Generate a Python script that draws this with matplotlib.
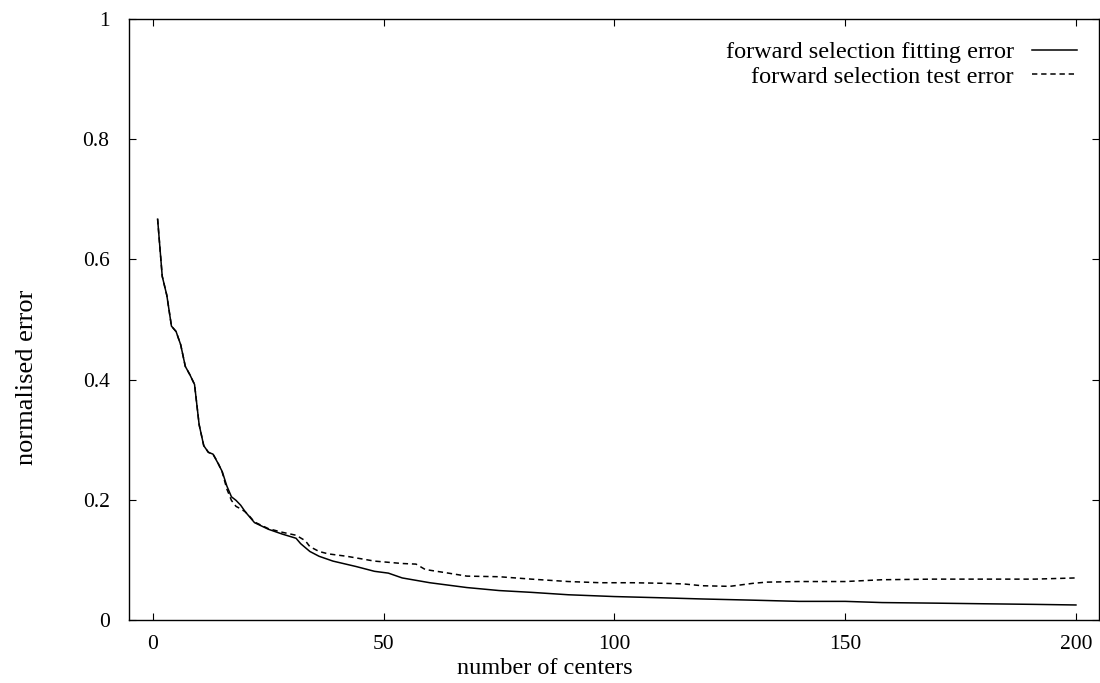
import matplotlib
matplotlib.use("Agg")
import matplotlib.pyplot as plt

plt.rcParams['font.family'] = ['Liberation Serif', 'DejaVu Serif']

# fitting error (solid)
fit_x = [1, 2, 3, 4, 5, 6, 7, 8, 9, 10, 11, 12, 13, 14, 15, 16, 17, 18, 19, 20,
         21, 22, 25, 28, 31, 32, 34, 36, 39, 44, 48, 51, 54, 60, 68, 75, 82,
         90, 100, 110, 119, 130, 140, 150, 158, 170, 180, 191, 200]
fit_y = [0.667, 0.572, 0.540, 0.489, 0.480, 0.458, 0.422, 0.408, 0.392, 0.325,
         0.290, 0.279, 0.276, 0.262, 0.247, 0.223, 0.205, 0.199, 0.191, 0.180,
         0.171, 0.162, 0.151, 0.143, 0.136, 0.127, 0.114, 0.106, 0.098, 0.089,
         0.081, 0.078, 0.070, 0.062, 0.054, 0.049, 0.046, 0.042, 0.039,
         0.037, 0.035, 0.033, 0.031, 0.031, 0.029, 0.028, 0.027, 0.026, 0.025]

# test error (dashed)
test_x = [1, 2, 3, 4, 5, 6, 7, 8, 9, 10, 11, 12, 13, 14, 15, 16, 17, 18, 19, 20,
          21, 22, 25, 28, 31, 33, 34, 36, 38, 42, 48, 51, 54, 57, 59, 64, 68,
          75, 82, 90, 97, 104, 111, 115, 119, 125, 130, 133, 140, 150, 158, 169,
          180, 191, 200]
test_y = [0.667, 0.572, 0.540, 0.489, 0.480, 0.458, 0.422, 0.408, 0.392, 0.325,
          0.290, 0.279, 0.276, 0.263, 0.246, 0.218, 0.199, 0.189, 0.185, 0.180,
          0.172, 0.163, 0.152, 0.146, 0.141, 0.132, 0.122, 0.114, 0.110, 0.106,
          0.098, 0.096, 0.094, 0.093, 0.084, 0.078, 0.073, 0.072, 0.068,
          0.064, 0.062, 0.062, 0.061, 0.060, 0.057, 0.056, 0.061, 0.063, 0.064,
          0.064, 0.067, 0.068, 0.068, 0.068, 0.070]

x_ticks = [0, 50, 100, 150, 200]
y_ticks = [0, 0.2, 0.4, 0.6, 0.8, 1]
y_tick_labels = ["0", "0.2", "0.4", "0.6", "0.8", "1"]
series_labels = ["forward selection fitting error", "forward selection test error"]

fig = plt.figure(figsize=(11, 6.83), dpi=100)
ax = fig.add_axes([129 / 1100, 63 / 683, 970 / 1100, 601 / 683])

ax.plot(fit_x, fit_y, color='black', lw=1.1, ls='-', label=series_labels[0])
ax.plot(test_x, test_y, color='black', lw=1.1, ls=(0, (3.5, 2.5)), label=series_labels[1])

ax.set_xlim(-5.2, 205)
ax.set_ylim(0, 1)
ax.set_xticks(x_ticks)
ax.set_xticklabels([str(v) for v in x_ticks])
ax.set_yticks(y_ticks)
ax.set_yticklabels(y_tick_labels)

ax.tick_params(axis='both', direction='in', length=5, width=0.8,
               top=True, right=True, labelsize=15.5, colors='black')
ax.tick_params(axis='x', pad=11)
ax.tick_params(axis='y', pad=14)
for s in ax.spines.values():
    s.set_linewidth(1.0)
    s.set_color('black')

ax.set_xlabel("number of centers", fontsize=17.5)
ax.xaxis.set_label_coords(0.429, -0.064)
ax.set_ylabel("normalised error", fontsize=19)
ax.yaxis.set_label_coords(-0.094, 0.403)

leg = ax.legend(loc='upper right', bbox_to_anchor=(1077 / 1100, 1 - 41 / 683),
                bbox_transform=fig.transFigure, frameon=False, markerfirst=False,
                fontsize=17.5, handlelength=1.85, handletextpad=0.75,
                labelspacing=0.12, borderpad=0, borderaxespad=0)

fig.savefig("out.png", dpi=100)
